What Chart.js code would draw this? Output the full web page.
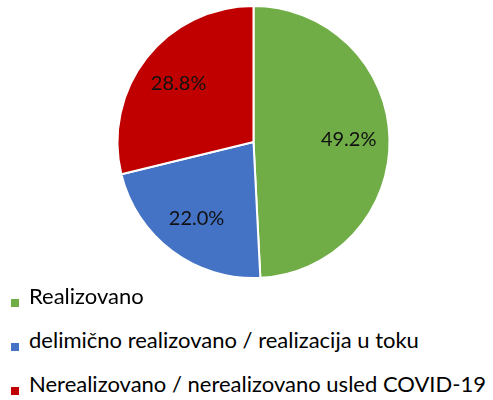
<!DOCTYPE html>
<html lang="sr">
<head>
<meta charset="UTF-8">
<title>Realizacija</title>
<script src="https://cdn.jsdelivr.net/npm/chart.js"></script>
<style>
  body { margin: 0; background: #fff; }
  #wrap { position: relative; width: 493px; height: 400px; }
  #box { position: absolute; left: 0; top: 0; width: 493px; height: 284px; }
  #legend { position: absolute; left: 0; top: 283px; width: 493px; font-family: Lato, sans-serif; font-size: 22px; line-height: 1.2; color: #000; }
  .item { position: absolute; left: 29px; white-space: nowrap; }
  .sq { position: absolute; left: -18px; width: 8px; height: 8px; }
</style>
</head>
<body>
<div id="wrap">
  <div id="box"><canvas id="myChart"></canvas></div>
  <div id="legend"></div>
</div>
<script>
var labels = ['Realizovano', 'delimično realizovano / realizacija u toku', 'Nerealizovano / nerealizovano usled COVID-19'];
var values = [49.2, 22.0, 28.8];
var colors = ['#70AD47', '#4472C4', '#C00000'];

// procenti unutar kriški
var pctLabels = {
    id: 'pctLabels',
    afterDatasetsDraw: function(chart) {
        var ctx = chart.ctx;
        var meta = chart.getDatasetMeta(0);
        ctx.save();
        ctx.font = '20px Lato';
        ctx.fillStyle = '#111';
        ctx.textAlign = 'center';
        ctx.textBaseline = 'middle';
        meta.data.forEach(function(arc, i) {
            var mid = (arc.startAngle + arc.endAngle) / 2;
            var r = arc.outerRadius * 0.7;
            var x = arc.x + Math.cos(mid) * r;
            var y = arc.y + Math.sin(mid) * r;
            ctx.fillText(values[i].toFixed(1) + '%', x, y);
        });
        ctx.restore();
    }
};

var grafico = document.getElementById('myChart').getContext('2d');
var myChart = new Chart(grafico, {
    type: 'pie',
    data: {
        labels: labels,
        datasets: [{
            data: values,
            backgroundColor: colors,
            borderColor: '#fff',
            borderWidth: 2
        }]
    },
    options: {
        responsive: true,
        maintainAspectRatio: false,
        animation: false,
        layout: { padding: { top: 5, bottom: 5, left: 14, right: 0 } },
        plugins: {
            legend: { display: false },
            tooltip: { enabled: false }
        }
    },
    plugins: [pctLabels]
});

var leg = document.getElementById('legend');
labels.forEach(function(l, i) {
    var d = document.createElement('div');
    d.className = 'item';
    d.style.top = (i * 44) + 'px';
    d.innerHTML = '<span class="sq" style="top:16px;background:' + colors[i] + '"></span>' + l;
    leg.appendChild(d);
});
</script>
</body>
</html>
